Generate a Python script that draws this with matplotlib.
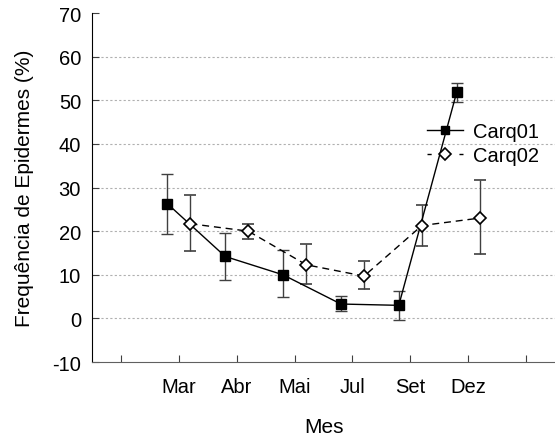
import numpy as np
import matplotlib.pyplot as plt
from matplotlib.lines import Line2D

plt.rcParams['font.family'] = ['Liberation Sans', 'DejaVu Sans']
plt.rcParams['axes.unicode_minus'] = False

meses = ['Mar', 'Abr', 'Mai', 'Jul', 'Set', 'Dez']
pos = np.arange(2, 8)

carq01 = [26.3, 14.2, 10.0, 3.3, 3.0, 51.8]
carq01_lo = [19.4, 8.7, 4.8, 1.8, -0.3, 49.5]
carq01_hi = [33.0, 19.5, 15.6, 5.2, 6.4, 54.0]

carq02 = [21.7, 20.0, 12.3, 9.7, 21.3, 23.0]
carq02_lo = [15.4, 18.3, 8.0, 6.7, 16.5, 14.7]
carq02_hi = [28.2, 21.6, 17.0, 13.1, 25.9, 31.7]

fig = plt.figure(figsize=(5.55, 4.39), dpi=100)
ax = fig.add_axes([0.166, 0.173, 0.834, 0.795])

# grade pontilhada horizontal
for y in range(0, 61, 10):
    ax.axhline(y, color='#b0b0b0', lw=0.8, ls=(0, (2, 2)), zorder=0)

c1 = np.array(carq01)
c2 = np.array(carq02)
err1 = [c1 - np.array(carq01_lo), np.array(carq01_hi) - c1]
err2 = [c2 - np.array(carq02_lo), np.array(carq02_hi) - c2]

ax.errorbar(pos - 0.2, c1, yerr=err1, fmt='-s', color='black', ms=6.5,
            mfc='black', mec='black', lw=1, ecolor='#404040', elinewidth=1,
            capsize=4.5, capthick=1, zorder=3)
ax.errorbar(pos + 0.2, c2, yerr=err2, fmt='--D', color='black', ms=6.5,
            mfc='white', mec='black', mew=1.2, lw=1, dashes=(5, 3.5),
            ecolor='#404040', elinewidth=1, capsize=4.5, capthick=1,
            zorder=3)

ax.set_xlim(0.5, 8.5)
ax.set_ylim(-10, 70)
ax.set_xticks(range(1, 9))
ax.set_xticklabels([''] + meses + [''])
ax.set_yticks(range(-10, 71, 10))
ax.tick_params(axis='both', direction='in', length=5, labelsize=14.5,
               color='#404040')
ax.tick_params(axis='x', pad=11)
ax.tick_params(axis='y', pad=8)

for s in ['top', 'right']:
    ax.spines[s].set_visible(False)
ax.spines['left'].set_color('black')
ax.spines['bottom'].set_color('#606060')

ax.set_xlabel('Mes', fontsize=15, labelpad=15)
ax.set_ylabel('Frequência de Epidermes (%)', fontsize=15, labelpad=13)

handles = [
    Line2D([], [], color='black', lw=1, marker='s', ms=6, mfc='black'),
    Line2D([], [], color='black', lw=1, ls=(0, (3, 20)), marker='D', ms=6.5,
           mfc='white', mew=1.2),
]
ax.legend(handles, ['Carq01', 'Carq02'], loc='center left',
          bbox_to_anchor=(0.7235, 0.625), frameon=False, fontsize=14.5,
          handlelength=1.8, handletextpad=0.5, labelspacing=0.25,
          borderpad=0, borderaxespad=0)

fig.savefig('out.png', dpi=100)
